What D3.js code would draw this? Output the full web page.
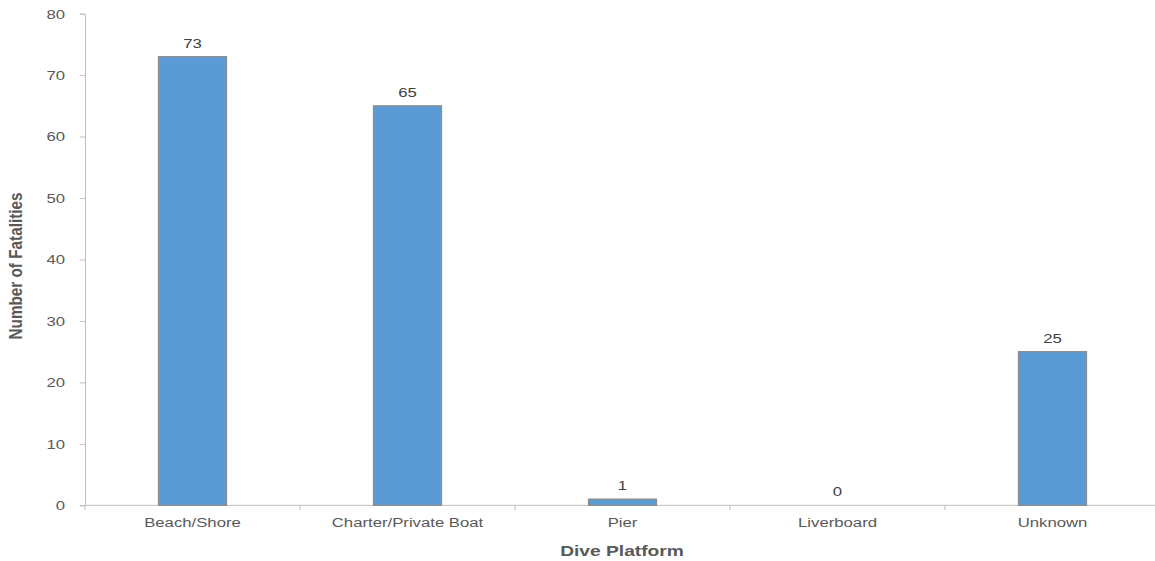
<!DOCTYPE html>
<html><head><meta charset="utf-8">
<script src="https://cdn.jsdelivr.net/npm/d3@7/dist/d3.min.js"></script>
<style>body{margin:0;background:#fff;}svg{display:block;font-family:"Liberation Sans",Arial,sans-serif;}</style>
</head><body>
<svg id="c" width="1155" height="561"></svg>
<script>
const categories = ["Beach/Shore","Charter/Private Boat","Pier","Liverboard","Unknown"];
const values = [73,65,1,0,25];
const yTicks = [0,10,20,30,40,50,60,70,80];

(function(){
const svg = d3.select("#c");
const SX = 1.24;
const mLeft = 85, mRight = 1160, mTop = 13.7, mBottom = 505.3;
const x = d3.scaleBand().domain(categories).range([mLeft,mRight]).paddingInner(0.684).paddingOuter(0.342);
const y = d3.scaleLinear().domain([0,80]).range([mBottom,mTop]);

// y axis
const gy = svg.append("g").attr("transform",`translate(${mLeft},0)`)
  .call(d3.axisLeft(y).tickValues(yTicks).tickSize(5).tickPadding(8));
gy.select(".domain").attr("stroke","#bfbfbf");
gy.selectAll(".tick line").attr("stroke","#bfbfbf");
gy.selectAll(".tick text").attr("fill","#595959").style("font-size","13.5px")
  .attr("x",null).attr("transform",`translate(-20,0) scale(${SX},1)`);

// x axis
const step = (mRight-mLeft)/categories.length;
const gx = svg.append("g").attr("transform",`translate(0,${mBottom})`);
gx.append("line").attr("x1",mLeft).attr("x2",mRight).attr("y1",0).attr("y2",0).attr("stroke","#bfbfbf");
d3.range(categories.length+1).forEach(i=>{
  gx.append("line").attr("x1",mLeft+i*step).attr("x2",mLeft+i*step).attr("y1",0).attr("y2",5).attr("stroke","#bfbfbf");
});
gx.selectAll("text.cat").data(categories).enter().append("text")
  .attr("transform",d=>`translate(${x(d)+x.bandwidth()/2},22) scale(${SX},1)`).attr("text-anchor","middle")
  .attr("fill","#595959").style("font-size","13.5px").text(d=>d);

// bars
svg.selectAll("rect.bar").data(values).enter().append("rect")
  .attr("x",(d,i)=>x(categories[i])).attr("width",x.bandwidth())
  .attr("y",d=>y(d)).attr("height",d=>mBottom-y(d))
  .attr("fill","#5b9bd5").attr("stroke","#8c8c8c").attr("stroke-width",1.3);

// labels
svg.selectAll("text.val").data(values).enter().append("text")
  .attr("transform",(d,i)=>`translate(${x(categories[i])+x.bandwidth()/2},${y(d)-9}) scale(${SX},1)`)
  .attr("text-anchor","middle").attr("fill","#404040").style("font-size","13.5px").text(d=>d);

// titles
svg.append("text").attr("transform",`translate(622,556) scale(${SX},1)`).attr("text-anchor","middle")
  .attr("fill","#595959").style("font-size","15.5px").style("font-weight","bold").text("Dive Platform");
svg.append("text").attr("transform",`translate(22,266) scale(${SX},1) rotate(-90)`).attr("text-anchor","middle")
  .attr("fill","#595959").style("font-size","15.3px").style("font-weight","bold").text("Number of Fatalities");
})();
</script>
</body></html>
